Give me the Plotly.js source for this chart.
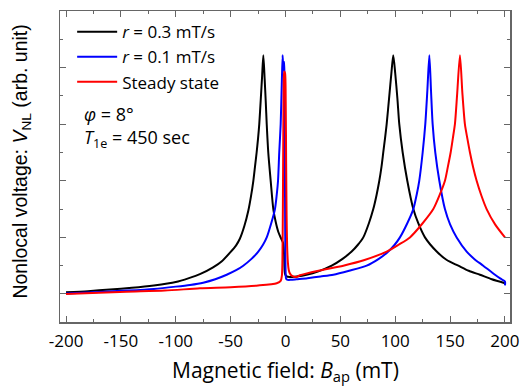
<!DOCTYPE html>
<html>
<head>
<meta charset="utf-8">
<script src="https://cdn.plot.ly/plotly-3.0.1.min.js"></script>
<style>html,body{margin:0;padding:0;background:#fff;}#chart{width:523px;height:386px;}</style>
</head>
<body>
<div id="chart"></div>
<script>
// r = 0.3 mT/s
const fastX = [-200,-180,-160,-140,-120,-100,-88,-78,-66,-58,-50.6,-45,-41.5,-37.5,-33.9,-31.5,-29.3,-27.8,-26.3,-25,-23.9,-22.5,-21.3,-20.2,-19,-18,-17.1,-15.7,-13.5,-11.1,-9,-6.6,-4,-2.2,-1.3,-0.5,1,4,10,19.3,30,42.1,52,60.3,66,70.9,76,80,83,85.5,87.5,89.1,90.7,92.2,94.6,96.5,98.2,100,102,103.7,106.8,111,116.5,121,127.1,137.8,147,157.5,167,177.2,188,200];
const fastY = [0.03,0.05,0.08,0.11,0.15,0.21,0.28,0.35,0.47,0.58,0.73,0.86,0.98,1.2,1.47,1.72,2.0,2.25,2.5,2.75,3.0,3.45,3.85,4.22,3.8,3.4,3.0,2.5,2.0,1.5,1.28,1.1,0.98,0.9,0.7,0.36,0.31,0.3,0.31,0.34,0.4,0.5,0.62,0.75,0.87,1.0,1.25,1.5,1.75,2.0,2.25,2.5,2.75,3.0,3.5,3.9,4.22,3.9,3.45,3.0,2.5,2.0,1.5,1.25,1.0,0.75,0.6,0.5,0.41,0.34,0.26,0.19];
// r = 0.1 mT/s
const slowX = [-200,-170,-145,-120,-100,-87,-75,-64,-53.6,-45,-38.5,-31,-24.8,-20.5,-17.1,-13,-9.6,-8,-6.8,-5.7,-4.4,-3.4,-2.6,-2.0,-1.5,-1.1,-0.7,-0.3,0.1,0.6,2,5,10,20,32,43.6,58,74,85,93.7,99.5,104.3,111,116.5,119.5,121.9,125,127.4,129.3,131.1,132.6,134.1,136.5,140.2,145.3,150,156,165.1,172,180.2,190.9,196,200,200];
const slowY = [0.01,0.035,0.06,0.09,0.13,0.16,0.2,0.26,0.34,0.42,0.5,0.62,0.75,0.87,1.0,1.25,1.5,1.75,2.0,2.5,3.0,3.7,4.22,3.95,4.08,4.1,3.0,1.2,0.4,0.27,0.25,0.25,0.26,0.28,0.31,0.34,0.41,0.5,0.62,0.75,0.87,1.0,1.25,1.5,1.75,2.0,2.5,3.0,3.6,4.22,3.6,3.0,2.5,2.0,1.5,1.23,1.0,0.75,0.62,0.5,0.34,0.27,0.22,0.15];
// Steady state
const steadyX = [-200,-170,-145,-110,-78,-50,-25,-8,-4.4,-3.3,-2.8,-2.4,-2.0,-1.6,-1.2,-0.4,0.2,0.6,1.0,1.5,2.2,3,4.1,6,10,13.2,30,52.7,72,92.2,103,113.4,125,134.7,140.5,145.3,148,150.5,152.5,154.4,156.5,159,161.2,163.5,165.8,168.1,171,174.2,178.5,183.3,191,200];
const steadyY = [0.0,0.02,0.04,0.06,0.1,0.12,0.15,0.19,0.23,0.32,0.6,1.5,2.8,3.75,3.93,3.9,3.4,2.3,1.4,0.85,0.55,0.42,0.36,0.32,0.3,0.33,0.41,0.5,0.6,0.75,0.87,1.0,1.25,1.5,1.75,2.0,2.25,2.5,2.75,3.0,3.55,4.22,3.55,3.0,2.74,2.5,2.24,2.0,1.74,1.5,1.23,1.0];

const seriesNames = ['<i>r</i> = 0.3 mT/s', '<i>r</i> = 0.1 mT/s', 'Steady state'];
const seriesColors = ['#000000', '#0000ff', '#ff0000'];
const xTickVals = [-200,-150,-100,-50,0,50,100,150,200];
const xTickText = ['-200','-150','-100','-50','0','50','100','150','200'];

const FONT = '"Open Sans", Lato, sans-serif';
const YFONT = '"Liberation Sans", Arial, sans-serif';

const traces = [
  {x: fastX, y: fastY},
  {x: slowX, y: slowY},
  {x: steadyX, y: steadyY}
].map((d, i) => ({
  x: d.x, y: d.y, type: 'scatter', mode: 'lines',
  name: seriesNames[i],
  line: {color: seriesColors[i], width: 2, shape: 'spline', smoothing: 0.7}
}));

const axisCommon = {
  showgrid: false, zeroline: false, showline: true, mirror: 'ticks',
  linecolor: '#666', linewidth: 1.5,
  ticks: 'inside', ticklen: 6, tickwidth: 1, tickcolor: '#666'
};

const layout = {
  width: 523, height: 386,
  margin: {l: 60, r: 13, t: 11, b: 64},
  paper_bgcolor: '#fff', plot_bgcolor: '#fff',
  font: {family: FONT, size: 17, color: '#000'},
  showlegend: true,
  legend: {
    x: 0.027, y: 0.99, xanchor: 'left', yanchor: 'top',
    bgcolor: 'rgba(0,0,0,0)', borderwidth: 0,
    font: {family: FONT, size: 17, color: '#000'},
    tracegroupgap: 0, itemwidth: 40
  },
  xaxis: Object.assign({}, axisCommon, {
    range: [-205.5, 204.6],
    tickmode: 'array', tickvals: xTickVals, ticktext: xTickText,
    tickfont: {family: FONT, size: 17, color: '#000'},
    ticklabelstandoff: 3,
    minor: {dtick: 25, ticks: 'inside', ticklen: 3, tickcolor: '#666', showgrid: false}
  }),
  yaxis: Object.assign({}, axisCommon, {
    range: [-0.495, 5.0],
    tick0: 0, dtick: 1, showticklabels: false,
    minor: {dtick: 0.5, ticks: 'inside', ticklen: 3, tickcolor: '#666', showgrid: false}
  }),
  annotations: [
    {xref: 'paper', yref: 'paper', x: 0.5, y: -0.158, xanchor: 'center', yanchor: 'middle', showarrow: false,
     text: 'Magnetic field: <i>B</i><sub>ap</sub> (mT)', font: {family: FONT, size: 21, color: '#000'}},
    {xref: 'paper', yref: 'paper', x: -0.085, y: 0.515, xanchor: 'center', yanchor: 'middle', showarrow: false, textangle: -90,
     text: 'Nonlocal voltage: <i>V</i><sub>NL</sub> (arb. unit)', font: {family: YFONT, size: 19.5, color: '#000'}},
    {xref: 'paper', yref: 'paper', x: 0.048, y: 0.668, xanchor: 'left', yanchor: 'middle', showarrow: false,
     text: '<i>φ</i> = 8°', font: {family: FONT, size: 18, color: '#000'}},
    {xref: 'paper', yref: 'paper', x: 0.048, y: 0.59, xanchor: 'left', yanchor: 'middle', showarrow: false,
     text: '<i>T</i><sub>1e</sub> = 450 sec', font: {family: FONT, size: 18, color: '#000'}}
  ]
};

Plotly.newPlot('chart', traces, layout, {displayModeBar: false, staticPlot: true});
</script>
</body>
</html>
